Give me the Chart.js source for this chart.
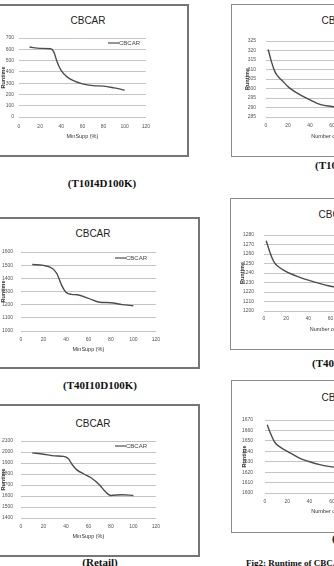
<!DOCTYPE html>
<html>
<head>
<meta charset="utf-8">
<script src="https://cdn.jsdelivr.net/npm/chart.js@4.4.1/dist/chart.umd.min.js"></script>
<style>
  body { margin: 0; width: 334px; height: 566px; overflow: hidden; background: #fff; position: relative; }
  .box { position: absolute; box-sizing: border-box; border: 2px solid #767676; }
  .rbox { border: 1.5px solid #8a8a8a; }
  canvas { position: absolute; }
  .ttl { position: absolute; font: 10px "Liberation Sans Narrow", sans-serif; color: #222; transform: translate(-50%, -50%); white-space: nowrap; }
  .cap { position: absolute; font: bold 11px "Liberation Serif", serif; color: #111; white-space: nowrap; transform: translateY(-50%); }
  .mid { transform: translate(-50%, -50%); }
</style>
</head>
<body>

<div class="box" style="left:-4px;top:4px;width:193px;height:153px"></div>
<div class="box" style="left:-4px;top:217px;width:204px;height:152px"></div>
<div class="box" style="left:-4px;top:404px;width:204px;height:153px"></div>
<div class="box rbox" style="left:231px;top:4px;width:150px;height:153px"></div>
<div class="box rbox" style="left:230px;top:198px;width:150px;height:152px"></div>
<div class="box rbox" style="left:231px;top:380px;width:150px;height:153px"></div>

<div class="ttl" style="left:88px;top:20px">CBCAR</div>
<div class="ttl" style="left:93px;top:233px">CBCAR</div>
<div class="ttl" style="left:93px;top:423px">CBCAR</div>
<div class="ttl" style="left:339px;top:20px">CBCAR</div>
<div class="ttl" style="left:336px;top:214px">CBCAR</div>
<div class="ttl" style="left:339px;top:397px">CBCAR</div>

<canvas id="c1" width="157" height="110" style="left:0;top:30px"></canvas>
<canvas id="c2" width="166" height="112" style="left:0;top:241px"></canvas>
<canvas id="c3" width="166" height="110" style="left:0;top:430px"></canvas>
<canvas id="c4" width="175" height="112" style="left:233px;top:28px"></canvas>
<canvas id="c5" width="174" height="111" style="left:232px;top:222px"></canvas>
<canvas id="c6" width="176" height="110" style="left:233px;top:405px"></canvas>

<div class="cap mid" style="left:102px;top:183px">(T10I4D100K)</div>
<div class="cap mid" style="left:100px;top:385px">(T40I10D100K)</div>
<div class="cap mid" style="left:100px;top:562px">(Retail)</div>
<div class="cap" style="left:315px;top:165px">(T10I4D100K)</div>
<div class="cap" style="left:312px;top:363px">(T40I10D100K)</div>
<div class="cap" style="left:332px;top:538px">(Retail)</div>
<div class="cap" style="left:246px;top:563px;font-size:9px">Fig2: Runtime of CBCAR with respect to number of rules</div>

<script>
// left column: runtime vs minimum support
const suppTicks = [0, 20, 40, 60, 80, 100, 120];

const t10Supp = [10, 20, 30, 33, 36, 40, 45, 50, 60, 70, 80, 90, 100];
const t10Time = [620, 608, 605, 575, 490, 410, 360, 328, 293, 278, 274, 258, 238];
const t10Ticks = [0, 100, 200, 300, 400, 500, 600, 700];

const t40Supp = [10, 20, 28, 32, 36, 40, 45, 50, 60, 70, 80, 90, 100];
const t40Time = [1505, 1498, 1475, 1435, 1350, 1295, 1278, 1275, 1248, 1218, 1215, 1200, 1192];
const t40Ticks = [1000, 1100, 1200, 1300, 1400, 1500, 1600];

const retailSupp = [10, 20, 30, 38, 42, 46, 50, 56, 62, 70, 75, 80, 90, 100];
const retailTime = [1992, 1980, 1965, 1960, 1940, 1880, 1835, 1800, 1768, 1700, 1640, 1605, 1612, 1605];
const retailTicks = [1400, 1500, 1600, 1700, 1800, 1900, 2000, 2100];

// right column: runtime vs number of rules
const rules = [2, 5, 8, 10, 15, 20, 30, 40, 50, 60, 70, 80, 90, 100];
const t10RulesTime = [320.5, 314, 309, 307, 304, 301, 297, 294, 291.5, 290.5, 289.5, 289, 288.5, 288];
const t10RulesTicks = [285, 290, 295, 300, 305, 310, 315, 320, 325];
const t40RulesTime = [1274, 1263, 1254, 1250, 1245, 1241.5, 1236.5, 1232.5, 1229, 1226, 1224, 1222, 1220.5, 1219];
const t40RulesTicks = [1200, 1210, 1220, 1230, 1240, 1250, 1260, 1270, 1280];
const retailRulesTime = [1665.5, 1657, 1650, 1647, 1643, 1640, 1634, 1630, 1627, 1625, 1623.5, 1622.5, 1621.5, 1621];
const retailRulesTicks = [1600, 1610, 1620, 1630, 1640, 1650, 1660, 1670];

Chart.defaults.font.family = '"Liberation Sans Narrow", sans-serif';
Chart.defaults.color = '#555';

// Excel-style legend drawn inside the plot area
const insideLegend = {
  id: 'insideLegend',
  afterDatasetsDraw(chart, args, opts) {
    if (opts.x == null) return;
    const ds = chart.data.datasets[0];
    const { ctx, chartArea } = chart;
    const x = chartArea.left + opts.x;
    const y = chartArea.top + opts.dy;
    ctx.save();
    ctx.strokeStyle = ds.borderColor;
    ctx.lineWidth = 1.2;
    ctx.beginPath();
    ctx.moveTo(x, y);
    ctx.lineTo(x + 11, y);
    ctx.stroke();
    ctx.fillStyle = '#444';
    ctx.font = '6px "Liberation Sans Narrow", sans-serif';
    ctx.textBaseline = 'middle';
    ctx.fillText(ds.label, x + 11, y);
    ctx.restore();
  }
};

function drawRuntime(id, xs, ys, yTicks, xTicks, xTitle, g) {
  const ctx = document.getElementById(id).getContext('2d');
  return new Chart(ctx, {
    type: 'line',
    data: {
      datasets: [{
        label: 'CBCAR',
        data: xs.map((x, i) => ({ x: x, y: ys[i] })),
        borderColor: '#4d4d4d',
        borderWidth: 1.4,
        pointRadius: 0,
        cubicInterpolationMode: 'monotone',
        fill: false
      }]
    },
    options: {
      responsive: false,
      animation: false,
      layout: { padding: { left: g.padL, top: g.padT, right: 6, bottom: 0 } },
      plugins: {
        legend: { display: false },
        tooltip: { enabled: false },
        insideLegend: g.legend || {}
      },
      scales: {
        x: {
          type: 'linear',
          min: xTicks[0],
          max: xTicks[xTicks.length - 1],
          afterBuildTicks: s => { s.ticks = xTicks.map(v => ({ value: v })); },
          afterFit: s => { s.height = g.xH; },
          grid: { display: false, drawTicks: false },
          border: { display: false },
          ticks: { autoSkip: false, maxRotation: 0, padding: g.xPad, font: { size: 5 } },
          title: { display: true, text: xTitle, padding: 0, color: '#333', font: { size: 5.5 } }
        },
        y: {
          min: yTicks[0],
          max: yTicks[yTicks.length - 1],
          afterBuildTicks: s => { s.ticks = yTicks.map(v => ({ value: v })); },
          afterFit: s => { s.width = g.yW; },
          grid: { color: '#c4c4c4', lineWidth: 1, drawTicks: false },
          border: { display: false },
          ticks: { autoSkip: false, padding: g.yPad, font: { size: 5 }, callback: v => String(v) },
          title: { display: true, text: 'Runtime', padding: 0, color: '#333', font: { size: 5.5, weight: 'bold' } }
        }
      }
    },
    plugins: [insideLegend]
  });
}

drawRuntime('c1', t10Supp, t10Time, t10Ticks, suppTicks, 'MinSupp (%)',
  { padL: 0, padT: 7, yW: 19, yPad: 5, xH: 23, xPad: 7, legend: { x: 89, dy: 5 } });
drawRuntime('c2', t40Supp, t40Time, t40Ticks, suppTicks, 'MinSupp (%)',
  { padL: 0, padT: 7, yW: 21, yPad: 8, xH: 22, xPad: 6, legend: { x: 94, dy: 6 } });
drawRuntime('c3', retailSupp, retailTime, retailTicks, suppTicks, 'MinSupp (%)',
  { padL: 0, padT: 7, yW: 21, yPad: 8, xH: 22, xPad: 6, legend: { x: 94, dy: 5 } });
drawRuntime('c4', rules, t10RulesTime, t10RulesTicks, suppTicks, 'Number of Rules',
  { padL: 11, padT: 7, yW: 22, yPad: 10, xH: 23, xPad: 6 });
drawRuntime('c5', rules, t40RulesTime, t40RulesTicks, suppTicks, 'Number of Rules',
  { padL: 7, padT: 7, yW: 25, yPad: 10, xH: 22, xPad: 5 });
drawRuntime('c6', rules, retailRulesTime, retailRulesTicks, suppTicks, 'Number of Rules',
  { padL: 8, padT: 7, yW: 24, yPad: 12, xH: 22, xPad: 6 });
</script>
</body>
</html>
